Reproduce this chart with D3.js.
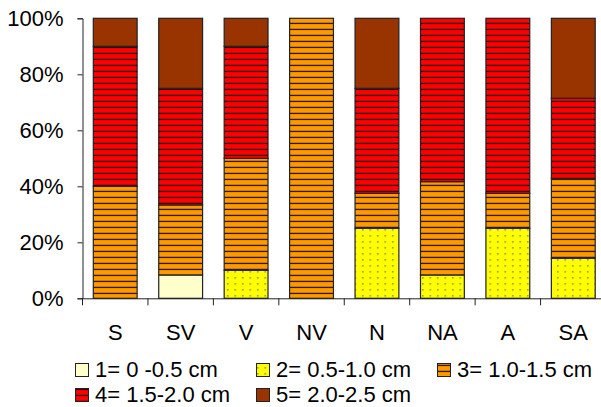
<!DOCTYPE html>
<html><head><meta charset="utf-8">
<script src="https://cdn.jsdelivr.net/npm/d3@7"></script>
<style>
html,body{margin:0;padding:0;background:#fff;}
svg{display:block;font-family:"Liberation Sans",Arial,sans-serif;}
</style></head>
<body>
<svg id="chart" width="601" height="407"></svg>
<script>
const categories = ["S","SV","V","NV","N","NA","A","SA"];
const seriesNames = ["1= 0 -0.5 cm","2= 0.5-1.0 cm","3= 1.0-1.5 cm","4= 1.5-2.0 cm","5= 2.0-2.5 cm"];
const s1 = [0, 8.33, 0, 0, 0, 0, 0, 0];
const s2 = [0, 0, 10, 0, 25, 8.33, 25, 14.29];
const s3 = [40, 25, 40, 100, 12.5, 33.33, 12.5, 28.57];
const s4 = [50, 41.67, 40, 0, 37.5, 58.34, 62.5, 28.57];
const s5 = [10, 25, 10, 0, 25, 0, 0, 28.57];
const yTicks = [0, 20, 40, 60, 80, 100];
const colors = ["#FFFFCC","#FFFF00","#FF9900","#FF0000","#993300"];
const patterns = [null, "dots", "lines", "lines", null];

const seriesValues = [s1, s2, s3, s4, s5];
const keys = ["k1","k2","k3","k4","k5"];
const table = categories.map((c, i) => {
  const row = {cat: c};
  keys.forEach((k, j) => row[k] = seriesValues[j][i]);
  return row;
});
const stacked = d3.stack().keys(keys)(table);

const svg = d3.select("#chart");
const defs = svg.append("defs");
const base = 298.3;
const lp = defs.append("pattern").attr("id","lines").attr("patternUnits","userSpaceOnUse")
  .attr("width",8).attr("height",6).attr("y", base - 5.5);
lp.append("rect").attr("x",0).attr("y",0).attr("width",8).attr("height",1.1).attr("fill","#000");
const dp = defs.append("pattern").attr("id","dots").attr("patternUnits","userSpaceOnUse")
  .attr("width",7.5).attr("height",6).attr("y", base - 3);
dp.append("rect").attr("x",2).attr("y",0).attr("width",1.5).attr("height",1.2).attr("fill","#666");

const x = d3.scaleBand().domain(categories).range([82.5, 606]).paddingInner(0.33).paddingOuter(0.165);
const y = d3.scaleLinear().domain([0, 100]).range([base, 18.3]);

// bars
const g = svg.append("g");
stacked.forEach((layer, j) => {
  const sel = g.selectAll(null).data(layer.filter(d => d[1] - d[0] > 0)).enter();
  sel.append("rect")
    .attr("x", d => x(d.data.cat)).attr("width", x.bandwidth())
    .attr("y", d => y(d[1])).attr("height", d => y(d[0]) - y(d[1]))
    .attr("fill", colors[j]);
  if (patterns[j]) {
    sel.append("rect")
      .attr("x", d => x(d.data.cat)).attr("width", x.bandwidth())
      .attr("y", d => y(d[1])).attr("height", d => y(d[0]) - y(d[1]))
      .attr("fill", "url(#" + patterns[j] + ")");
  }
  sel.append("rect")
    .attr("x", d => x(d.data.cat)).attr("width", x.bandwidth())
    .attr("y", d => y(d[1])).attr("height", d => y(d[0]) - y(d[1]))
    .attr("fill", "none").attr("stroke", "#222").attr("stroke-width", 1.2);
});

// y axis
const ya = svg.append("g").attr("transform", "translate(82.5,0)")
  .call(d3.axisLeft(y).tickValues(yTicks).tickSize(5).tickPadding(14).tickFormat(d => d + "%"));
ya.selectAll("path,line").attr("stroke", "#222");
ya.selectAll("text").attr("font-size", 22).attr("fill", "#000")
  .attr("font-family", "'Liberation Sans',Arial,sans-serif");

// x axis
const xa = svg.append("g").attr("transform", "translate(0," + base + ")")
  .call(d3.axisBottom(x).tickSize(0).tickPadding(26));
xa.select(".domain").attr("stroke", "#222");
xa.selectAll("text").attr("font-size", 22).attr("fill", "#000")
  .attr("font-family", "'Liberation Sans',Arial,sans-serif");
const gap = x.step() * x.paddingInner() / 2;
const bounds = categories.map(c => x(c) - gap).concat([x(categories[categories.length - 1]) + x.bandwidth() + gap]);
xa.selectAll(".bt").data(bounds).enter().append("line")
  .attr("x1", d => d).attr("x2", d => d).attr("y1", 0).attr("y2", 7).attr("stroke", "#222");

// legend
const legPos = [[75,363],[256,363],[437,363],[75,388],[256,388]];
seriesNames.forEach((n, j) => {
  const [lx, ly] = legPos[j];
  svg.append("rect").attr("x", lx).attr("y", ly).attr("width", 14).attr("height", 14).attr("fill", colors[j]);
  if (patterns[j]) {
    svg.append("rect").attr("x", lx).attr("y", ly).attr("width", 14).attr("height", 14)
      .attr("fill", "url(#" + patterns[j] + ")");
  }
  svg.append("rect").attr("x", lx + 0.5).attr("y", ly + 0.5).attr("width", 13).attr("height", 13)
    .attr("fill", "none").attr("stroke", "#222").attr("stroke-width", 1);
  svg.append("text").attr("x", lx + 20).attr("y", ly + 14).attr("font-size", 22).attr("fill", "#000").text(n);
});
</script>
</body></html>
